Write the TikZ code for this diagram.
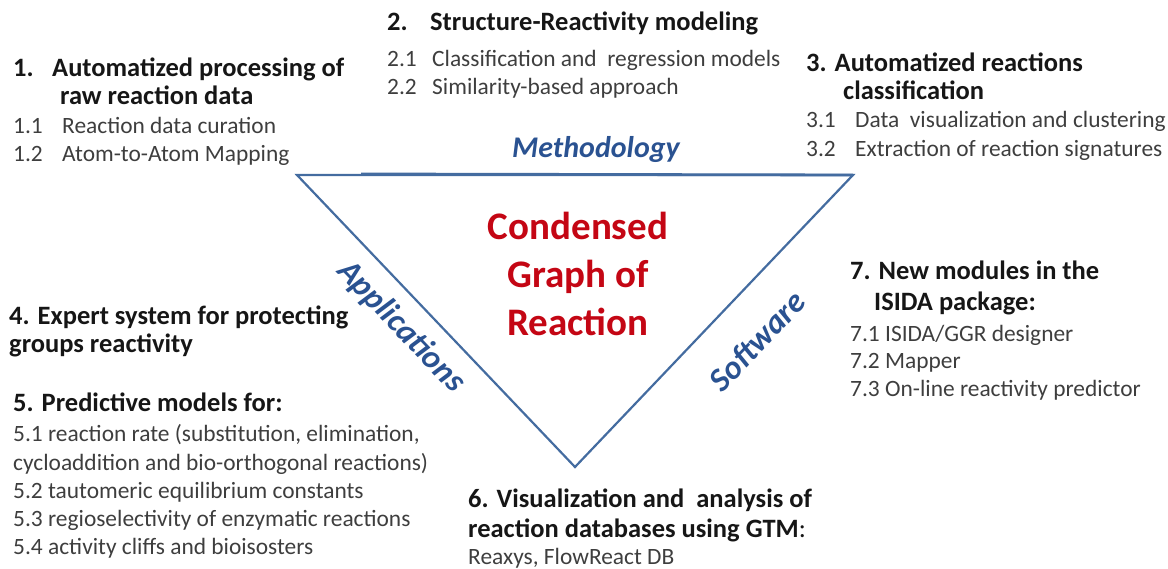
\documentclass[tikz,border=0pt]{standalone}
\usepackage{fontspec}
\setmainfont{Carlito}
\definecolor{edgeblue}{RGB}{68,108,160}
\definecolor{labelblue}{RGB}{42,82,145}
\definecolor{cgrred}{RGB}{196,6,20}
\definecolor{headtext}{RGB}{22,22,22}
\definecolor{subtext}{RGB}{62,62,62}
\begin{document}
\begin{tikzpicture}[x=1pt,y=1pt,
  head/.style={anchor=base west, inner sep=0pt, text=headtext,
    font=\fontsize{26.5}{32}\selectfont\bfseries},
  sub/.style={anchor=base west, inner sep=0pt, text=subtext,
    font=\fontsize{23.4}{28}\selectfont},
  side/.style={anchor=base, inner sep=0pt, text=labelblue,
    font=\fontsize{30}{36}\selectfont\bfseries\itshape},
  cgr/.style={anchor=base, inner sep=0pt, text=cgrred,
    font=\fontsize{39}{47}\selectfont\bfseries},
  edge/.style={draw=edgeblue, line width=2.2pt, line join=miter}]

\useasboundingbox (0,0) rectangle (1168,-569);

% the central triangle
\coordinate (tl) at (297,-175);
\coordinate (tr) at (853,-175);
\coordinate (bt) at (575,-467);
\coordinate (tm) at (361,-174);
\draw[edge] (tl) -- (tr) -- (bt) -- cycle;
\draw[edge, line width=2.8pt] (tm) -- (tr);

% sides of the triangle
\node[side] (meth) at (596,-158) {Methodology};
\node[side, font=\fontsize{33}{40}\selectfont\bfseries\itshape,
      rotate=-46.2, anchor=center] (appl) at (401,-327) {Applications};
\node[side, font=\fontsize{33}{40}\selectfont\bfseries\itshape,
      rotate=46.3, anchor=center] (soft) at (757,-341) {Software};

% centre
\node[cgr] (cgr1) at (578,-240) {Condensed};
\node[cgr] (cgr2) at (578,-288) {Graph of};
\node[cgr] (cgr3) at (578,-336) {Reaction};

% 1. processing of raw data
\node[head] (n1)  at (13,-77)  {1.};
\node[head] (h1a) at (52,-77)  {Automatized processing of};
\node[head] (h1b) at (60,-105) {raw reaction data};
\node[sub]  (n11) at (13,-134) {1.1};
\node[sub]  (s11) at (62,-134) {Reaction data curation};
\node[sub]  (n12) at (13,-162) {1.2};
\node[sub]  (s12) at (62,-162) {Atom-to-Atom Mapping};

% 2. structure-reactivity modeling
\node[head] (n2)  at (387,-31) {2.};
\node[head] (h2)  at (430,-31) {Structure-Reactivity modeling};
\node[sub]  (n21) at (387,-67) {2.1};
\node[sub]  (s21) at (432,-67) {Classification and\ \ regression models};
\node[sub]  (n22) at (387,-95) {2.2};
\node[sub]  (s22) at (432,-95) {Similarity-based approach};

% 3. reactions classification
\node[head] (h3a) at (806,-72)  {3. Automatized reactions};
\node[head] (h3b) at (843,-100) {classification};
\node[sub]  (n31) at (806,-128) {3.1};
\node[sub]  (s31) at (855,-128) {Data\ \ visualization and clustering};
\node[sub]  (n32) at (806,-157) {3.2};
\node[sub]  (s32) at (855,-157) {Extraction of reaction signatures};

% 4. expert system
\node[head] (h4a) at (9,-325) {4. Expert system for protecting};
\node[head] (h4b) at (9,-353) {groups reactivity};

% 5. predictive models
\node[head] (h5)  at (13,-412) {5. Predictive models for:};
\node[sub]  (s51) at (13,-442) {5.1 reaction rate (substitution, elimination,};
\node[sub]  (s51b) at (13,-470) {cycloaddition and bio-orthogonal reactions)};
\node[sub]  (s52) at (13,-498) {5.2 tautomeric equilibrium constants};
\node[sub]  (s53) at (13,-526) {5.3 regioselectivity of enzymatic reactions};
\node[sub]  (s54) at (13,-554) {5.4 activity cliffs and bioisosters};

% 6. visualization with GTM
\node[head] (h6a) at (468,-507) {6. Visualization and\ \ analysis of};
\node[head] (h6b) at (468,-537) {reaction databases using GTM{\mdseries:}};
\node[sub]  (s6)  at (468,-564) {Reaxys, FlowReact DB};

% 7. ISIDA modules
\node[head] (h7a) at (850,-280) {7. New modules in the};
\node[head] (h7b) at (874,-311) {ISIDA package:};
\node[sub]  (s71) at (850,-342) {7.1 ISIDA/GGR designer};
\node[sub]  (s72) at (850,-369) {7.2 Mapper};
\node[sub]  (s73) at (850,-397) {7.3 On-line reactivity predictor};
\end{tikzpicture}
\end{document}
